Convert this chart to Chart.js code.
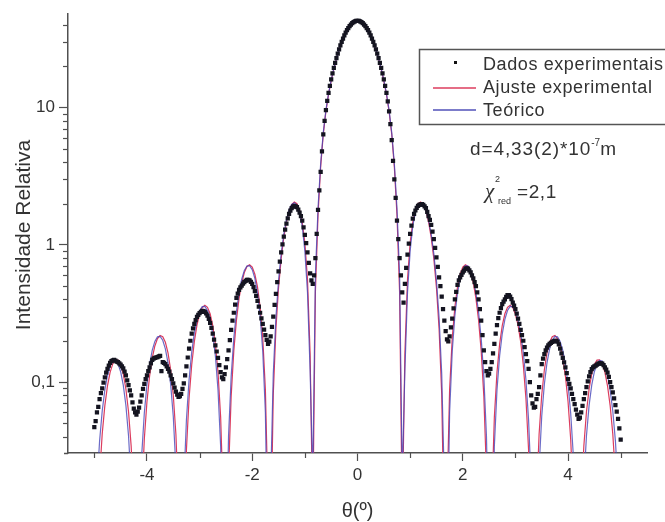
<!DOCTYPE html>
<html>
<head>
<meta charset="utf-8">
<script src="https://cdn.jsdelivr.net/npm/chart.js@4.4.0/dist/chart.umd.min.js"></script>
<style>
  html, body { margin: 0; padding: 0; background: #fff; }
  #wrap { width: 665px; height: 522px; }
</style>
</head>
<body>
<div id="wrap"><canvas id="chart" width="665" height="522"></canvas></div>
<script>
// ---- experimental data: angle (deg) and relative intensity ----
const dataTheta = [
  -5, -4.975, -4.95, -4.925, -4.9, -4.875, -4.85, -4.825, -4.8, -4.775,
  -4.75, -4.725, -4.7, -4.675, -4.65, -4.625, -4.6, -4.575, -4.55, -4.525,
  -4.5, -4.475, -4.45, -4.425, -4.4, -4.375, -4.35, -4.325, -4.3, -4.275,
  -4.25, -4.225, -4.2, -4.175, -4.15, -4.125, -4.1, -4.075, -4.05, -4.025,
  -4, -3.975, -3.95, -3.925, -3.9, -3.875, -3.85, -3.825, -3.8, -3.775,
  -3.75, -3.725, -3.7, -3.675, -3.65, -3.625, -3.6, -3.575, -3.55, -3.525,
  -3.5, -3.475, -3.45, -3.425, -3.4, -3.375, -3.35, -3.325, -3.3, -3.275,
  -3.25, -3.225, -3.2, -3.175, -3.15, -3.125, -3.1, -3.075, -3.05, -3.025,
  -3, -2.975, -2.95, -2.925, -2.9, -2.875, -2.85, -2.825, -2.8, -2.775,
  -2.75, -2.725, -2.7, -2.675, -2.65, -2.625, -2.6, -2.575, -2.55, -2.525,
  -2.5, -2.475, -2.45, -2.425, -2.4, -2.375, -2.35, -2.325, -2.3, -2.275,
  -2.25, -2.225, -2.2, -2.175, -2.15, -2.125, -2.1, -2.075, -2.05, -2.025,
  -2, -1.975, -1.95, -1.925, -1.9, -1.875, -1.85, -1.825, -1.8, -1.775,
  -1.75, -1.725, -1.7, -1.675, -1.65, -1.625, -1.6, -1.575, -1.55, -1.525,
  -1.5, -1.475, -1.45, -1.425, -1.4, -1.375, -1.35, -1.325, -1.3, -1.275,
  -1.25, -1.225, -1.2, -1.175, -1.15, -1.125, -1.1, -1.075, -1.05, -1.025,
  -1, -0.975, -0.95, -0.925, -0.9, -0.875, -0.85, -0.825, -0.8, -0.775,
  -0.75, -0.725, -0.7, -0.675, -0.65, -0.625, -0.6, -0.575, -0.55, -0.525,
  -0.5, -0.475, -0.45, -0.425, -0.4, -0.375, -0.35, -0.325, -0.3, -0.275,
  -0.25, -0.225, -0.2, -0.175, -0.15, -0.125, -0.1, -0.075, -0.05, -0.025,
  0,
  0.025, 0.05, 0.075, 0.1, 0.125, 0.15, 0.175, 0.2, 0.225, 0.25,
  0.275, 0.3, 0.325, 0.35, 0.375, 0.4, 0.425, 0.45, 0.475, 0.5,
  0.525, 0.55, 0.575, 0.6, 0.625, 0.65, 0.675, 0.7, 0.725, 0.75,
  0.775, 0.8, 0.825, 0.85, 0.875, 0.9, 0.925, 0.95, 0.975, 1,
  1.025, 1.05, 1.075, 1.1, 1.125, 1.15, 1.175, 1.2, 1.225, 1.25,
  1.275, 1.3, 1.325, 1.35, 1.375, 1.4, 1.425, 1.45, 1.475, 1.5,
  1.525, 1.55, 1.575, 1.6, 1.625, 1.65, 1.675, 1.7, 1.725, 1.75,
  1.775, 1.8, 1.825, 1.85, 1.875, 1.9, 1.925, 1.95, 1.975, 2,
  2.025, 2.05, 2.075, 2.1, 2.125, 2.15, 2.175, 2.2, 2.225, 2.25,
  2.275, 2.3, 2.325, 2.35, 2.375, 2.4, 2.425, 2.45, 2.475, 2.5,
  2.525, 2.55, 2.575, 2.6, 2.625, 2.65, 2.675, 2.7, 2.725, 2.75,
  2.775, 2.8, 2.825, 2.85, 2.875, 2.9, 2.925, 2.95, 2.975, 3,
  3.025, 3.05, 3.075, 3.1, 3.125, 3.15, 3.175, 3.2, 3.225, 3.25,
  3.275, 3.3, 3.325, 3.35, 3.375, 3.4, 3.425, 3.45, 3.475, 3.5,
  3.525, 3.55, 3.575, 3.6, 3.625, 3.65, 3.675, 3.7, 3.725, 3.75,
  3.775, 3.8, 3.825, 3.85, 3.875, 3.9, 3.925, 3.95, 3.975, 4,
  4.025, 4.05, 4.075, 4.1, 4.125, 4.15, 4.175, 4.2, 4.225, 4.25,
  4.275, 4.3, 4.325, 4.35, 4.375, 4.4, 4.425, 4.45, 4.475, 4.5,
  4.525, 4.55, 4.575, 4.6, 4.625, 4.65, 4.675, 4.7, 4.725, 4.75,
  4.775, 4.8, 4.825, 4.85, 4.875, 4.9, 4.925, 4.95, 4.975, 5
];

const dataIntensity = [
  0.047, 0.052, 0.060, 0.066, 0.075, 0.083, 0.090, 0.099, 0.108, 0.117,
  0.125, 0.132, 0.138, 0.142, 0.144, 0.145, 0.143, 0.141, 0.140, 0.137,
  0.134, 0.130, 0.126, 0.119, 0.112, 0.103, 0.095, 0.087, 0.080, 0.071,
  0.064, 0.060, 0.058, 0.061, 0.065, 0.072, 0.080, 0.089, 0.097, 0.105,
  0.112, 0.120, 0.128, 0.137, 0.145, 0.148, 0.150, 0.151, 0.152, 0.154,
  0.155, 0.120, 0.140, 0.138, 0.135, 0.130, 0.125, 0.119, 0.112, 0.105,
  0.098, 0.091, 0.085, 0.081, 0.078, 0.079, 0.082, 0.089, 0.098, 0.112,
  0.130, 0.151, 0.175, 0.200, 0.225, 0.246, 0.265, 0.283, 0.298, 0.309,
  0.318, 0.325, 0.330, 0.329, 0.325, 0.316, 0.305, 0.289, 0.270, 0.248,
  0.225, 0.204, 0.185, 0.167, 0.150, 0.133, 0.118, 0.108, 0.105, 0.114,
  0.128, 0.147, 0.170, 0.202, 0.240, 0.280, 0.320, 0.366, 0.410, 0.442,
  0.470, 0.489, 0.505, 0.521, 0.535, 0.547, 0.555, 0.556, 0.550, 0.538,
  0.520, 0.492, 0.460, 0.425, 0.390, 0.354, 0.320, 0.291, 0.265, 0.241,
  0.220, 0.203, 0.190, 0.197, 0.215, 0.252, 0.300, 0.365, 0.440, 0.535,
  0.640, 0.755, 0.880, 1.010, 1.150, 1.290, 1.430, 1.560, 1.680, 1.775,
  1.850, 1.900, 1.920, 1.910, 1.880, 1.810, 1.720, 1.620, 1.500, 1.340,
  1.180, 1.030, 0.880, 0.740, 0.620, 0.550, 0.520, 0.600, 0.800, 1.200,
  1.8, 2.5, 3.4, 4.8, 6.4, 8.0, 9.6, 11.2, 12.8, 14.4,
  16.1, 17.8, 19.5, 21.2, 23.0, 24.8, 26.6, 28.4, 30.2, 31.9,
  33.6, 35.2, 36.7, 38.0, 39.3, 40.3, 41.3, 42.0, 42.6, 42.9,
  43.0,
  42.9, 42.6, 42.0, 41.3, 40.3, 39.3, 38.0, 36.7, 35.2, 33.6,
  31.9, 30.2, 28.4, 26.6, 24.8, 23.0, 21.2, 19.5, 17.8, 16.1,
  14.4, 12.8, 11.1, 9.4, 7.6, 5.8, 4.1, 3.0, 2.2, 1.5,
  1.1, 0.80, 0.60, 0.45, 0.38, 0.52, 0.68, 0.85, 1.02, 1.20,
  1.38, 1.55, 1.68, 1.78, 1.86, 1.92, 1.96, 1.97, 1.98, 1.96,
  1.91, 1.85, 1.74, 1.62, 1.52, 1.40, 1.25, 1.10, 0.95, 0.81,
  0.69, 0.58, 0.50, 0.42, 0.34, 0.28, 0.235, 0.205, 0.198, 0.215,
  0.250, 0.290, 0.345, 0.400, 0.455, 0.510, 0.550, 0.580, 0.605, 0.630,
  0.650, 0.670, 0.675, 0.670, 0.652, 0.630, 0.600, 0.570, 0.535, 0.500,
  0.450, 0.400, 0.340, 0.280, 0.220, 0.170, 0.140, 0.120, 0.112, 0.115,
  0.125, 0.140, 0.162, 0.190, 0.225, 0.260, 0.292, 0.320, 0.346, 0.370,
  0.386, 0.400, 0.418, 0.430, 0.430, 0.420, 0.402, 0.380, 0.360, 0.340,
  0.315, 0.290, 0.265, 0.240, 0.220, 0.200, 0.180, 0.160, 0.142, 0.125,
  0.100, 0.080, 0.070, 0.065, 0.066, 0.075, 0.082, 0.092, 0.112, 0.135,
  0.148, 0.160, 0.170, 0.178, 0.185, 0.190, 0.193, 0.196, 0.198, 0.200,
  0.200, 0.197, 0.188, 0.175, 0.162, 0.150, 0.139, 0.128, 0.116, 0.105,
  0.097, 0.090, 0.082, 0.075, 0.069, 0.063, 0.058, 0.054, 0.055, 0.060,
  0.067, 0.075, 0.083, 0.092, 0.101, 0.110, 0.118, 0.124, 0.128, 0.130,
  0.132, 0.134, 0.136, 0.137, 0.137, 0.136, 0.133, 0.128, 0.123, 0.117,
  0.109, 0.100, 0.092, 0.084, 0.076, 0.068, 0.061, 0.054, 0.046, 0.038
];

// ---- fitted and theoretical curves, sampled every 0.05 deg ----
const curveTheta = [
  -5, -4.95, -4.9, -4.85, -4.8, -4.75, -4.7, -4.65, -4.6, -4.55,
  -4.5, -4.45, -4.4, -4.35, -4.3, -4.25, -4.2, -4.15, -4.1, -4.05,
  -4, -3.95, -3.9, -3.85, -3.8, -3.75, -3.7, -3.65, -3.6, -3.55,
  -3.5, -3.45, -3.4, -3.35, -3.3, -3.25, -3.2, -3.15, -3.1, -3.05,
  -3, -2.95, -2.9, -2.85, -2.8, -2.75, -2.7, -2.65, -2.6, -2.55,
  -2.5, -2.45, -2.4, -2.35, -2.3, -2.25, -2.2, -2.15, -2.1, -2.05,
  -2, -1.95, -1.9, -1.85, -1.8, -1.75, -1.7, -1.65, -1.6, -1.55,
  -1.5, -1.45, -1.4, -1.35, -1.3, -1.25, -1.2, -1.15, -1.1, -1.05,
  -1, -0.95, -0.9, -0.85, -0.8, -0.75, -0.7, -0.65, -0.6, -0.55,
  -0.5, -0.45, -0.4, -0.35, -0.3, -0.25, -0.2, -0.15, -0.1, -0.05,
  0,
  0.05, 0.1, 0.15, 0.2, 0.25, 0.3, 0.35, 0.4, 0.45, 0.5,
  0.55, 0.6, 0.65, 0.7, 0.75, 0.8, 0.85, 0.9, 0.95, 1,
  1.05, 1.1, 1.15, 1.2, 1.25, 1.3, 1.35, 1.4, 1.45, 1.5,
  1.55, 1.6, 1.65, 1.7, 1.75, 1.8, 1.85, 1.9, 1.95, 2,
  2.05, 2.1, 2.15, 2.2, 2.25, 2.3, 2.35, 2.4, 2.45, 2.5,
  2.55, 2.6, 2.65, 2.7, 2.75, 2.8, 2.85, 2.9, 2.95, 3,
  3.05, 3.1, 3.15, 3.2, 3.25, 3.3, 3.35, 3.4, 3.45, 3.5,
  3.55, 3.6, 3.65, 3.7, 3.75, 3.8, 3.85, 3.9, 3.95, 4,
  4.05, 4.1, 4.15, 4.2, 4.25, 4.3, 4.35, 4.4, 4.45, 4.5,
  4.55, 4.6, 4.65, 4.7, 4.75, 4.8, 4.85, 4.9, 4.95, 5
];

const fitCurve = [
  0.000175, 0.00629, 0.0207, 0.0419, 0.0673, 0.0937, 0.1176, 0.1356, 0.1451, 0.1447,
  0.1342, 0.1148, 0.089, 0.0608, 0.0341, 0.01318, 0.00154, 0.00158, 0.01418, 0.0385,
  0.0719, 0.1105, 0.1495, 0.1833, 0.2075, 0.2184, 0.2142, 0.195, 0.1631, 0.123,
  0.0804, 0.0417, 0.01331, 0.000386, 0.00635, 0.0321, 0.0759, 0.1331, 0.1972, 0.2599,
  0.3133, 0.3494, 0.3628, 0.3507, 0.3146, 0.2579, 0.189, 0.1178, 0.0556, 0.01341,
  0.000175, 0.02162, 0.079, 0.1688, 0.2823, 0.4069, 0.5281, 0.6287, 0.6953, 0.7167,
  0.688, 0.6103, 0.4933, 0.3524, 0.2094, 0.0882, 0.01348, 0.00638, 0.0814, 0.2436,
  0.4868, 0.793, 1.132, 1.47, 1.761, 1.967, 2.051, 1.996, 1.791, 1.459,
  1.04, 0.56, 0.16, 0.01, 0.45, 1.65, 3.7, 6.4, 9.4, 12.5,
  15.7, 19.1, 22.7, 26.4, 30.1, 33.7, 36.9, 39.7, 41.8, 43.1,
  43.5,
  43.1, 41.8, 39.7, 36.9, 33.7, 30.1, 26.4, 22.7, 19.1, 15.7,
  12.5, 9.4, 6.4, 3.7, 1.65, 0.45, 0.01, 0.16, 0.56, 1.04,
  1.459, 1.791, 1.996, 2.051, 1.967, 1.761, 1.47, 1.132, 0.793, 0.4868,
  0.2436, 0.0814, 0.00638, 0.01348, 0.0882, 0.2094, 0.3524, 0.4933, 0.6103, 0.688,
  0.7167, 0.6953, 0.6287, 0.5281, 0.4069, 0.2823, 0.1688, 0.079, 0.02162, 0.000175,
  0.01341, 0.0556, 0.1178, 0.189, 0.2579, 0.3146, 0.3507, 0.3628, 0.3494, 0.3133,
  0.2599, 0.1972, 0.1331, 0.0759, 0.0321, 0.00635, 0.000386, 0.01331, 0.0417, 0.0804,
  0.123, 0.1631, 0.195, 0.2142, 0.2184, 0.2075, 0.1833, 0.1495, 0.1105, 0.0719,
  0.0385, 0.01418, 0.00158, 0.00154, 0.01318, 0.0341, 0.0608, 0.089, 0.1148, 0.1342,
  0.1447, 0.1451, 0.1356, 0.1176, 0.0937, 0.0673, 0.0419, 0.0207, 0.00629, 0.000175
];

const theoryCurve = [
  0.00459, 0.01739, 0.0371, 0.0615, 0.0875, 0.1116, 0.1308, 0.1421, 0.144, 0.136,
  0.1189, 0.095, 0.0676, 0.0406, 0.01814, 0.00378, 0.00024, 0.00884, 0.02925, 0.0595,
  0.0962, 0.1347, 0.1702, 0.1978, 0.2135, 0.215, 0.2017, 0.1748, 0.1382, 0.0966,
  0.0564, 0.02354, 0.00379, 0.00124, 0.01787, 0.0531, 0.1038, 0.1644, 0.2276, 0.2854,
  0.3299, 0.3549, 0.356, 0.3324, 0.2868, 0.2248, 0.1549, 0.0876, 0.034, 0.0038,
  0.00464, 0.0403, 0.11, 0.2085, 0.3257, 0.4484, 0.5613, 0.6497, 0.7002, 0.7045,
  0.6597, 0.5698, 0.4454, 0.3041, 0.1677, 0.0599, 0.0038, 0.01816, 0.1147, 0.2955,
  0.5515, 0.863, 1.199, 1.522, 1.793, 1.972, 2.028, 1.945, 1.719, 1.375,
  0.9, 0.45, 0.12, 0.02, 0.6, 1.85, 3.9, 6.6, 9.6, 12.7,
  15.9, 19.3, 22.8, 26.4, 30.0, 33.5, 36.6, 39.3, 41.3, 42.6,
  43.0,
  42.6, 41.3, 39.3, 36.6, 33.5, 30.0, 26.4, 22.8, 19.3, 15.9,
  12.7, 9.6, 6.6, 3.9, 1.85, 0.6, 0.02, 0.12, 0.45, 0.9,
  1.375, 1.719, 1.945, 2.028, 1.972, 1.793, 1.522, 1.199, 0.863, 0.5515,
  0.2955, 0.1147, 0.01816, 0.0038, 0.0599, 0.1677, 0.3041, 0.4454, 0.5698, 0.6597,
  0.7045, 0.7002, 0.6497, 0.5613, 0.4484, 0.3257, 0.2085, 0.11, 0.0403, 0.00464,
  0.0038, 0.034, 0.0876, 0.1549, 0.2248, 0.2868, 0.3324, 0.356, 0.3549, 0.3299,
  0.2854, 0.2276, 0.1644, 0.1038, 0.0531, 0.01787, 0.00124, 0.00379, 0.02354, 0.0564,
  0.0966, 0.1382, 0.1748, 0.2017, 0.215, 0.2135, 0.1978, 0.1702, 0.1347, 0.0962,
  0.0595, 0.02925, 0.00884, 0.00024, 0.00378, 0.01814, 0.0406, 0.0676, 0.095, 0.1189,
  0.136, 0.144, 0.1421, 0.1308, 0.1116, 0.0875, 0.0615, 0.0371, 0.01739, 0.00459
];

// ---- axes ----
const xMajorTicks = [-4, -2, 0, 2, 4];
const xMinorTicks = [-5, -3, -1, 1, 3, 5];
const yMajorTicks = [0.1, 1, 10];
const yMinorTicks = [0.04, 0.05, 0.06, 0.07, 0.08, 0.09,
  0.2, 0.3, 0.4, 0.5, 0.6, 0.7, 0.8, 0.9,
  2, 3, 4, 5, 6, 7, 8, 9, 20, 30, 40];
const yTickLabels = { 0.1: '0,1', 1: '1', 10: '10' };

const FONT = '"Liberation Sans", Arial, sans-serif';
const AXIS_COLOR = '#505050';
const TEXT_COLOR = '#333333';
const RED = '#dc3c5e';
const BLUE = 'rgba(70, 70, 185, 0.8)';

function toPoints(xs, ys) {
    const n = Math.min(xs.length, ys.length);
    const out = [];
    for (let i = 0; i < n; i++) out.push({ x: xs[i], y: ys[i] });
    return out;
}

// minor ticks, axis titles, legend box and the fit annotations
const decorations = {
    id: 'decorations',
    afterDraw(chart) {
        const { ctx, scales: { x, y } } = chart;
        const area = chart.chartArea;
        ctx.save();

        ctx.strokeStyle = AXIS_COLOR;
        ctx.lineWidth = 1.2;
        xMinorTicks.forEach(v => {
            const px = Math.round(x.getPixelForValue(v)) + 0.5;
            ctx.beginPath();
            ctx.moveTo(px, area.bottom);
            ctx.lineTo(px, area.bottom + 5);
            ctx.stroke();
        });
        yMinorTicks.forEach(v => {
            const py = Math.round(y.getPixelForValue(v)) + 0.5;
            ctx.beginPath();
            ctx.moveTo(area.left, py);
            ctx.lineTo(area.left - 5, py);
            ctx.stroke();
        });
        // x axis line sticks out a little left of the y axis
        ctx.lineWidth = 1.5;
        ctx.beginPath();
        ctx.moveTo(area.left - 4, area.bottom + 0.5);
        ctx.lineTo(area.left, area.bottom + 0.5);
        ctx.stroke();

        // axis titles
        ctx.fillStyle = TEXT_COLOR;
        ctx.textAlign = 'center';
        ctx.textBaseline = 'middle';
        ctx.font = '20px ' + FONT;
        ctx.fillText('θ(º)', x.getPixelForValue(0), 511);
        ctx.save();
        ctx.translate(24, 235);
        ctx.rotate(-Math.PI / 2);
        ctx.font = '21px ' + FONT;
        ctx.fillText('Intensidade Relativa', 0, 0);
        ctx.restore();

        // legend box
        const ds = chart.data.datasets;
        ctx.strokeStyle = '#555';
        ctx.lineWidth = 1.5;
        ctx.strokeRect(419.5, 49.5, 300, 75);
        ctx.fillStyle = '#111';
        ctx.fillRect(454, 61, 3, 3);
        ctx.lineWidth = 1.3;
        ctx.strokeStyle = RED;
        ctx.beginPath(); ctx.moveTo(433, 88); ctx.lineTo(476, 88); ctx.stroke();
        ctx.strokeStyle = 'rgb(80, 80, 185)';
        ctx.beginPath(); ctx.moveTo(433, 110); ctx.lineTo(476, 110); ctx.stroke();
        ctx.fillStyle = TEXT_COLOR;
        ctx.font = '18px ' + FONT;
        ctx.letterSpacing = '0.6px';
        ctx.textAlign = 'left';
        ctx.textBaseline = 'alphabetic';
        ctx.fillText(ds[0].label, 483, 70);
        ctx.fillText(ds[1].label, 483, 93);
        ctx.fillText(ds[2].label, 483, 116);

        // slit width and reduced chi-square
        ctx.font = '19px ' + FONT;
        ctx.letterSpacing = '0.9px';
        const dText = 'd=4,33(2)*10';
        ctx.fillText(dText, 470, 155);
        const dEnd = 470 + ctx.measureText(dText).width;
        ctx.font = '10px ' + FONT;
        ctx.letterSpacing = '0px';
        ctx.fillText('-7', dEnd, 146);
        ctx.font = '19px ' + FONT;
        ctx.fillText('m', dEnd + 9, 155);

        ctx.font = 'italic 21px "Liberation Serif", "Times New Roman", serif';
        ctx.fillText('χ', 485, 198);
        ctx.font = '9px ' + FONT;
        ctx.fillText('2', 495, 182);
        ctx.fillText('red', 498, 204);
        ctx.font = '19px ' + FONT;
        ctx.letterSpacing = '0.6px';
        ctx.fillText('=2,1', 517, 198);

        ctx.restore();
    }
};

const ctx = document.getElementById('chart').getContext('2d');
new Chart(ctx, {
    type: 'scatter',
    data: {
        datasets: [
            {
                label: 'Dados experimentais',
                data: toPoints(dataTheta, dataIntensity),
                pointStyle: 'rect',
                pointRadius: 3,
                pointBorderWidth: 0,
                pointBackgroundColor: '#141420',
                showLine: false,
                order: 0
            },
            {
                label: 'Ajuste experimental',
                data: toPoints(curveTheta, fitCurve),
                showLine: true,
                borderColor: RED,
                borderWidth: 1.2,
                pointRadius: 0,
                order: 2
            },
            {
                label: 'Teórico',
                data: toPoints(curveTheta, theoryCurve),
                showLine: true,
                borderColor: BLUE,
                borderWidth: 1.2,
                pointRadius: 0,
                order: 1
            }
        ]
    },
    options: {
        responsive: false,
        animation: false,
        layout: { padding: { left: 0, top: 12, right: 18, bottom: 0 } },
        plugins: {
            legend: { display: false },
            tooltip: { enabled: false }
        },
        scales: {
            x: {
                type: 'linear',
                min: -5.5,
                max: 5.5,
                afterBuildTicks: scale => { scale.ticks = xMajorTicks.map(v => ({ value: v })); },
                afterFit: scale => { scale.height = 69; },
                grid: { drawOnChartArea: false, drawTicks: true, tickLength: 8, tickColor: AXIS_COLOR, tickWidth: 1.2 },
                border: { color: AXIS_COLOR, width: 1.5 },
                ticks: { color: TEXT_COLOR, font: { family: FONT, size: 17 }, padding: 4, maxRotation: 0 }
            },
            y: {
                type: 'logarithmic',
                min: 0.0304,
                max: 48,
                afterBuildTicks: scale => { scale.ticks = yMajorTicks.map(v => ({ value: v })); },
                afterFit: scale => { scale.width = 68; },
                grid: { drawOnChartArea: false, drawTicks: true, tickLength: 9, tickColor: AXIS_COLOR, tickWidth: 1.2 },
                border: { color: AXIS_COLOR, width: 1.5 },
                ticks: {
                    color: TEXT_COLOR,
                    font: { family: FONT, size: 17 },
                    padding: 4,
                    callback: v => yTickLabels[v] || ''
                }
            }
        }
    },
    plugins: [decorations]
});
</script>
</body>
</html>
